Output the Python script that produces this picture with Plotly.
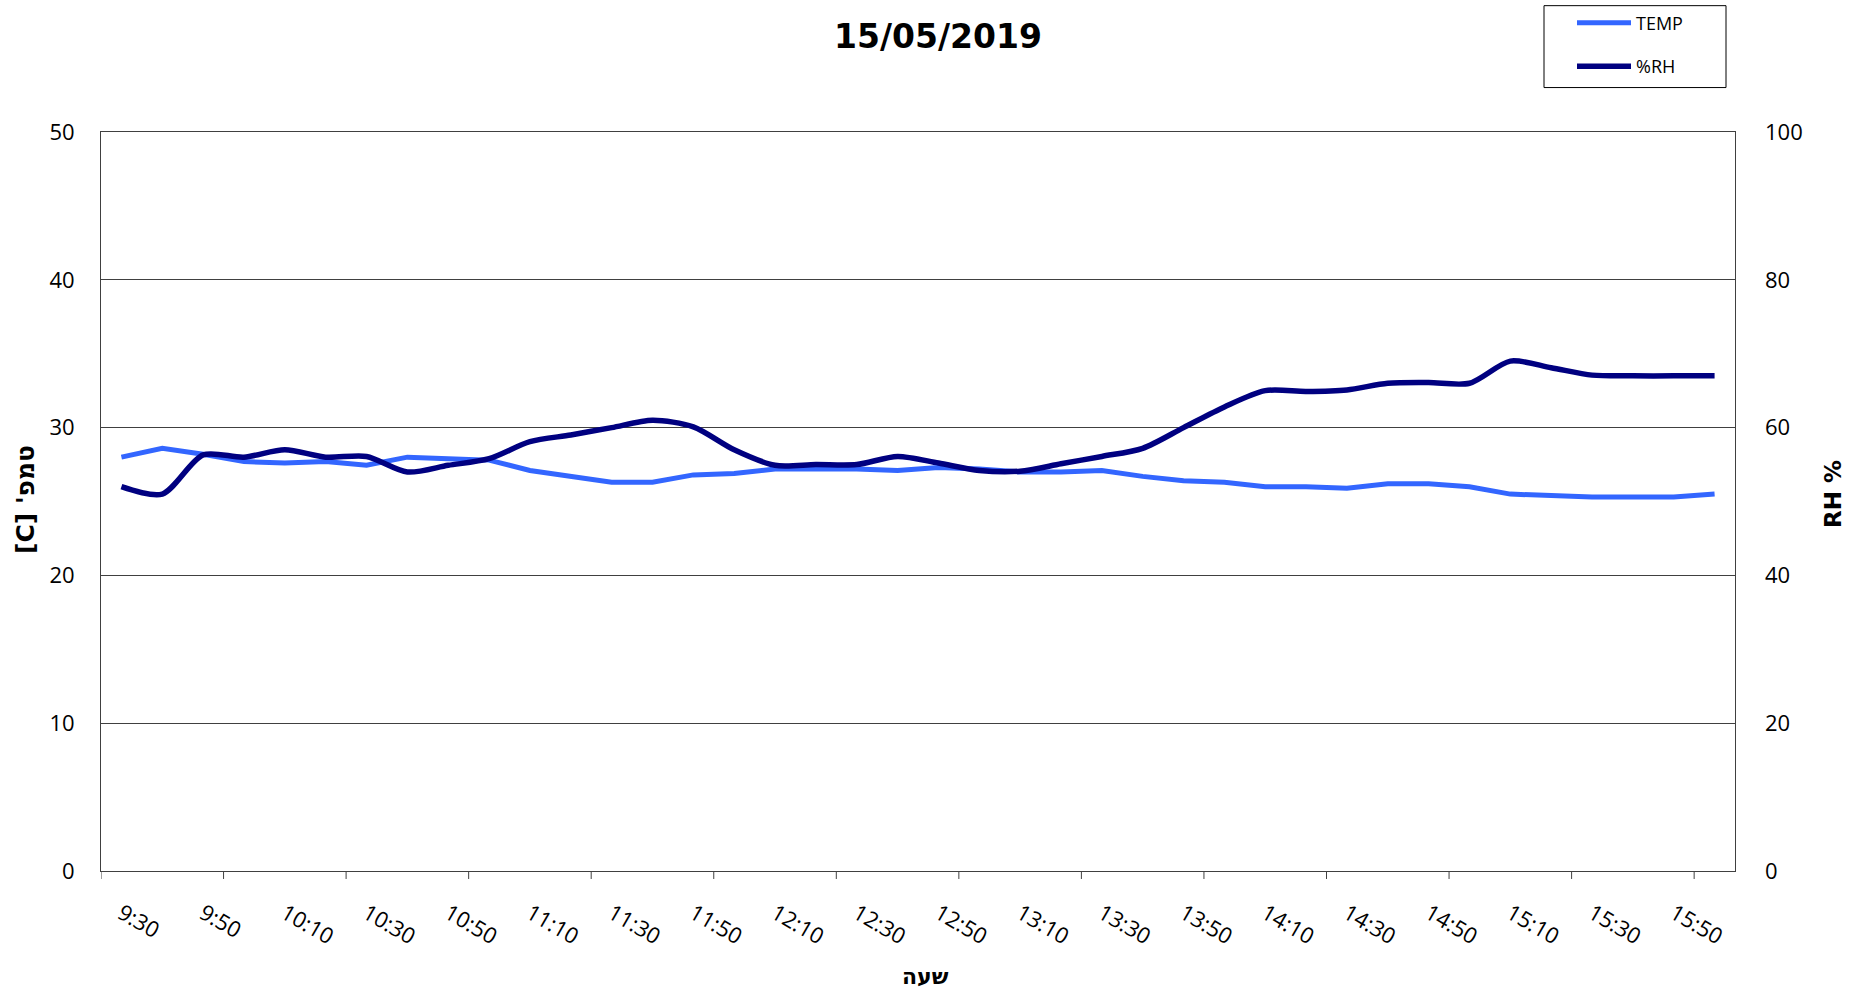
import plotly.graph_objects as go

# ---- data ----
times = ["9:30", "9:40", "9:50", "10:00", "10:10", "10:20", "10:30", "10:40", "10:50", "11:00",
         "11:10", "11:20", "11:30", "11:40", "11:50", "12:00", "12:10", "12:20", "12:30", "12:40",
         "12:50", "13:00", "13:10", "13:20", "13:30", "13:40", "13:50", "14:00", "14:10", "14:20",
         "14:30", "14:40", "14:50", "15:00", "15:10", "15:20", "15:30", "15:40", "15:50", "16:00"]

temp = [28.0, 28.6, 28.2, 27.7, 27.6, 27.7, 27.45, 28.0, 27.9, 27.8,
        27.1, 26.7, 26.3, 26.3, 26.8, 26.9, 27.2, 27.2, 27.2, 27.1,
        27.3, 27.2, 27.0, 27.0, 27.1, 26.7, 26.4, 26.3, 26.0, 26.0,
        25.9, 26.2, 26.2, 26.0, 25.5, 25.4, 25.3, 25.3, 25.3, 25.5]

rh = [52.0, 51.0, 56.3, 56.0, 57.0, 56.0, 56.1, 54.0, 54.9, 55.8,
      58.1, 59.0, 60.0, 61.0, 60.1, 57.0, 54.9, 55.0, 55.0, 56.1,
      55.2, 54.2, 54.1, 55.1, 56.1, 57.2, 60.0, 62.8, 65.0, 64.9,
      65.1, 66.0, 66.1, 66.0, 69.0, 68.1, 67.1, 67.0, 67.0, 67.0]

label_times = times[::2]
temp_ticks = [0, 10, 20, 30, 40, 50]
rh_ticks = [0, 20, 40, 60, 80, 100]

FONT = "Open Sans"
HEB = "DejaVu Sans"
GRID = "#404040"

# plot-area geometry (px)
L, R, T, B = 101, 1735, 131.5, 871.5
PW, PH = R - L, B - T


def px(x):
    return (x - L) / PW


def py(y):
    return (B - y) / PH


fig = go.Figure()
fig.add_trace(go.Scatter(x=times, y=temp, name="TEMP", mode="lines",
                         line=dict(color="#3366FF", width=5),
                         legendgroup="a", yaxis="y"))
fig.add_trace(go.Scatter(x=times, y=rh, name="%RH", mode="lines",
                         line=dict(color="#000080", width=5.5, shape="spline", smoothing=0.8),
                         legendgroup="b", yaxis="y2"))

# x-axis tick marks between category groups (every 3 categories)
shapes = []
for k in range(14):
    xb = -0.5 + 3 * k
    shapes.append(dict(type="line", xref="x", yref="paper", x0=xb, x1=xb,
                       y0=0, y1=-8 / PH, line=dict(color=GRID, width=1)))
# legend frame
shapes.append(dict(type="rect", xref="paper", yref="paper",
                   x0=px(1544), x1=px(1726), y0=py(87), y1=py(5),
                   line=dict(color="black", width=1), fillcolor="rgba(0,0,0,0)"))

fig.update_layout(
    width=1859, height=993,
    margin=dict(l=L, r=1859 - R, t=T, b=993 - B, autoexpand=False),
    paper_bgcolor="white", plot_bgcolor="white",
    font=dict(family=FONT, color="black", size=18),
    title=dict(text="<b>15/05/2019</b>", xref="container", yref="container",
               x=938 / 1859, xanchor="center", y=1 - 36 / 993, yanchor="middle",
               font=dict(family="DejaVu Sans", size=33, color="black")),
    showlegend=True,
    legend=dict(x=px(1572), y=py(4), xanchor="left", yanchor="top",
                borderwidth=0, bgcolor="rgba(0,0,0,0)",
                font=dict(family=FONT, size=18), tracegroupgap=17,
                traceorder="grouped", itemwidth=54),
    xaxis=dict(type="category", range=[-0.5, 39.5], tickmode="array",
               tickvals=label_times, ticktext=label_times, tickangle=30,
               ticks="", showgrid=False, showline=True, linecolor=GRID, mirror=True,
               zeroline=False, ticklabelstandoff=20, automargin=False,
               tickfont=dict(family=FONT, size=22)),
    yaxis=dict(range=[0, 50], tickmode="array", tickvals=temp_ticks,
               showgrid=True, gridcolor=GRID, gridwidth=1, zeroline=False,
               showline=True, linecolor=GRID, mirror=True, ticks="", automargin=False,
               ticklabelstandoff=21, tickfont=dict(family=FONT, size=22)),
    yaxis2=dict(range=[0, 100], tickmode="array", tickvals=rh_ticks,
                overlaying="y", side="right", showgrid=False, zeroline=False,
                showline=False, ticks="", ticklabelstandoff=29, automargin=False,
                tickfont=dict(family=FONT, size=22)),
    shapes=shapes,
    annotations=[
        dict(text="<b>שעה</b>", xref="paper", yref="paper",
             x=px(925), y=py(977), xanchor="center", yanchor="middle",
             showarrow=False, font=dict(family=HEB, size=22)),
        dict(text="<b>\u202bטמפ' [C]\u202c</b>", xref="paper", yref="paper",
             x=px(25), y=py(500), xanchor="center", yanchor="middle",
             textangle=-90, showarrow=False, font=dict(family=HEB, size=25)),
        dict(text="<b>RH %</b>", xref="paper", yref="paper",
             x=px(1833), y=py(494), xanchor="center", yanchor="middle",
             textangle=-90, showarrow=False, font=dict(family=HEB, size=23)),
    ],
)

fig.write_html("out.html", config={"displayModeBar": False},
               post_script="document.body.style.margin='0';document.body.style.overflow='hidden';")
